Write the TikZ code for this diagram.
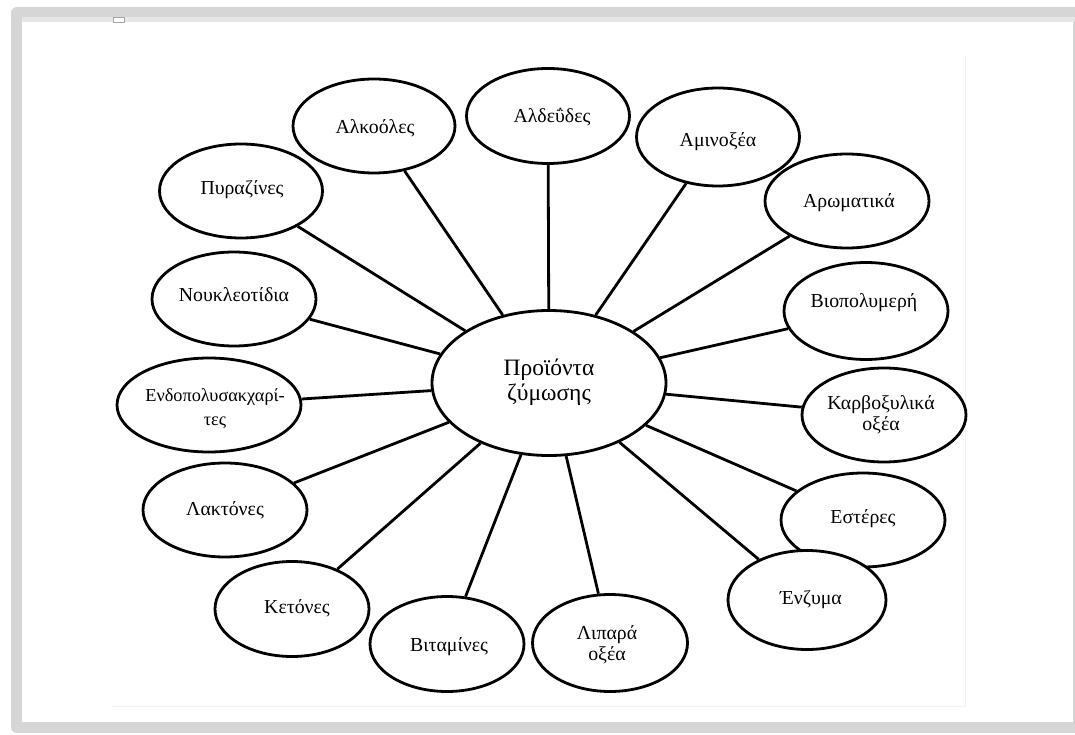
\documentclass[tikz,border=0pt]{standalone}
\usepackage{fontspec}
\setmainfont{Liberation Serif}
\usetikzlibrary{shapes.geometric}
\definecolor{framegray}{HTML}{D6D6D6}
\definecolor{framelight}{HTML}{E6E6E6}
\definecolor{faintline}{HTML}{F1F1F1}
\begin{document}
\begin{tikzpicture}[x=1pt,y=-1pt,
  bub/.style={draw=black,line width=2.8pt,ellipse,inner sep=0pt,fill=white},
  txt/.style={font=\fontsize{19.8}{21}\selectfont,align=center,inner sep=0pt},
  hub/.style={font=\fontsize{23.5}{25}\selectfont,align=center,inner sep=0pt},
  spoke/.style={line width=2.8pt,black}]
\useasboundingbox (0,0) rectangle (1075,735);
\fill[white] (0,0) rectangle (1075,735);
% window frame
\fill[framegray,rounded corners=6pt] (11,7) rectangle (1090,733);
\fill[framelight] (22,17) rectangle (1075,22);
\fill[white] (22,22) rectangle (1073,722);
\draw[gray!70,fill=white,line width=0.6pt] (113,17.5) rectangle (124,22);
\draw[faintline,line width=1pt] (112,706) -- (965,706) -- (965,55);

% outer bubbles
\node[bub,minimum width=234pt,minimum height=145pt] (hub) at (549,383) {};
\node[bub,minimum width=162pt,minimum height=94pt] (alk) at (374,126) {};
\node[bub,minimum width=163pt,minimum height=95pt] (ald) at (548,116) {};
\node[bub,minimum width=163pt,minimum height=98pt] (ami) at (718,137) {};
\node[bub,minimum width=163pt,minimum height=94pt] (pyr) at (241,191) {};
\node[bub,minimum width=164pt,minimum height=94pt] (aro) at (847,201) {};
\node[bub,minimum width=164pt,minimum height=94pt] (nuc) at (234,299) {};
\node[bub,minimum width=164pt,minimum height=97pt] (bio) at (866,311) {};
\node[bub,minimum width=184pt,minimum height=94pt] (end) at (209,405) {};
\node[bub,minimum width=164pt,minimum height=94pt] (kar) at (884,415) {};
\node[bub,minimum width=164pt,minimum height=94pt] (lak) at (225,510) {};
\node[bub,minimum width=164pt,minimum height=94pt] (est) at (863,520) {};
\node[bub,minimum width=154pt,minimum height=95pt] (ket) at (292,609) {};
\node[bub,minimum width=154pt,minimum height=95pt] (vit) at (447,644) {};
\node[bub,minimum width=155pt,minimum height=97pt] (lip) at (610,643) {};
\node[bub,minimum width=158pt,minimum height=99pt] (enz) at (807,600) {};

% spokes
\foreach \n in {alk,ald,ami,pyr,aro,nuc,bio,end,kar,lak,est,ket,vit,lip,enz}
  \draw[spoke] (hub) -- (\n);

% labels
\node[hub] (hub-t) at (549,382) {Προϊόντα\\ζύμωσης};
\node[txt] (alk-t) at (375,128) {Αλκοόλες};
\node[txt] (ald-t) at (552,117) {Αλδεΰδες};
\node[txt] (ami-t) at (718,142) {Αμινοξέα};
\node[txt] (pyr-t) at (242,190) {Πυραζίνες};
\node[txt] (aro-t) at (849,203) {Αρωματικά};
\node[txt] (nuc-t) at (234,295) {Νουκλεοτίδια};
\node[txt] (bio-t) at (864,303) {Βιοπολυμερή};
\node[txt,font=\fontsize{18.3}{24}\selectfont] (end-t) at (215,409) {Ενδοπολυσακχαρί-\\τες};
\node[txt] (kar-t) at (881,415) {Καρβοξυλικά\\οξέα};
\node[txt] (lak-t) at (225,510) {Λακτόνες};
\node[txt] (est-t) at (863,519) {Εστέρες};
\node[txt] (ket-t) at (297,608) {Κετόνες};
\node[txt] (vit-t) at (449,647) {Βιταμίνες};
\node[txt] (lip-t) at (607,645) {Λιπαρά\\οξέα};
\node[txt] (enz-t) at (811,600) {Ένζυμα};
\end{tikzpicture}
\end{document}
